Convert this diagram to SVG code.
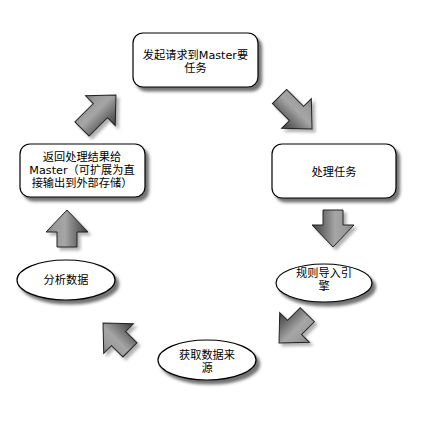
<svg xmlns="http://www.w3.org/2000/svg" width="426" height="423" viewBox="0 0 426 423">
  <defs>
    <filter id="nodeShadow" x="-20%" y="-20%" width="150%" height="160%">
      <feDropShadow dx="3.5" dy="4" stdDeviation="1.8" flood-color="#000" flood-opacity="0.55"/>
    </filter>
    <filter id="arrowShadow" x="-30%" y="-30%" width="170%" height="170%">
      <feDropShadow dx="3" dy="3" stdDeviation="1.4" flood-color="#000" flood-opacity="0.3"/>
    </filter>
    <linearGradient id="arrowFill" gradientUnits="userSpaceOnUse" x1="0" y1="21" x2="0" y2="-21">
      <stop offset="0" stop-color="#3e3e3e"/>
      <stop offset="0.3" stop-color="#747474"/>
      <stop offset="0.55" stop-color="#a6a6a6"/>
      <stop offset="0.8" stop-color="#9a9a9a"/>
      <stop offset="1" stop-color="#7c7c7c"/>
    </linearGradient>
  </defs>
  <style>
    .box { fill: #ffffff; stroke: #000000; stroke-width: 1.2; }
    .lbl { font-family: "DejaVu Sans", "Noto Sans CJK SC", sans-serif; font-size: 11.2px; fill: #000000; text-anchor: middle; }
    .arr { fill: url(#arrowFill); stroke: #222222; stroke-width: 1; stroke-linejoin: miter; }
  </style>

  <g id="connectors">
    <g filter="url(#arrowShadow)">
      <path class="arr" transform="translate(82,129) rotate(-45)" d="M0,-10 H26 V-21 L48,0 L26,21 V10 H0 Z"/>
    </g>
    <g filter="url(#arrowShadow)">
      <path class="arr" transform="translate(279.5,96.5) rotate(45)" d="M0,-10 H24 V-21 L46,0 L24,21 V10 H0 Z"/>
    </g>
    <g filter="url(#arrowShadow)">
      <path class="arr" transform="translate(333,210) rotate(90)" d="M0,-10 H15 V-21 L37,0 L15,21 V10 H0 Z"/>
    </g>
    <g filter="url(#arrowShadow)">
      <path class="arr" transform="translate(307.3,314.7) rotate(135)" d="M0,-10 H18 V-21 L40,0 L18,21 V10 H0 Z"/>
    </g>
    <g filter="url(#arrowShadow)">
      <path class="arr" transform="translate(129.9,349.9) rotate(-135)" d="M0,-10 H16 V-21 L38,0 L16,21 V10 H0 Z"/>
    </g>
    <g filter="url(#arrowShadow)">
      <path class="arr" transform="translate(67,247) rotate(-90)" d="M0,-10 H15 V-21 L37,0 L15,21 V10 H0 Z"/>
    </g>
  </g>

  <g id="node-request">
    <rect class="box" x="133" y="33" width="125" height="54" rx="10" filter="url(#nodeShadow)"/>
    <text class="lbl" x="195.5" y="59">发起请求到Master要</text>
    <text class="lbl" x="195.5" y="72">任务</text>
  </g>

  <g id="node-process">
    <rect class="box" x="272" y="144" width="124" height="54" rx="10" filter="url(#nodeShadow)"/>
    <text class="lbl" x="334" y="176">处理任务</text>
  </g>

  <g id="node-rules">
    <ellipse class="box" cx="324" cy="283" rx="48" ry="19" filter="url(#nodeShadow)"/>
    <text class="lbl" x="324" y="277">规则导入引</text>
    <text class="lbl" x="324" y="290">擎</text>
  </g>

  <g id="node-fetch">
    <ellipse class="box" cx="207" cy="360" rx="49" ry="20" filter="url(#nodeShadow)"/>
    <text class="lbl" x="207" y="359">获取数据来</text>
    <text class="lbl" x="207" y="372">源</text>
  </g>

  <g id="node-analyze">
    <ellipse class="box" cx="66" cy="280" rx="49" ry="20" filter="url(#nodeShadow)"/>
    <text class="lbl" x="66" y="284">分析数据</text>
  </g>

  <g id="node-return">
    <rect class="box" x="20" y="144" width="125" height="53" rx="10" filter="url(#nodeShadow)"/>
    <text class="lbl" x="82" y="161">返回处理结果给</text>
    <text class="lbl" x="82" y="174">Master（可扩展为直</text>
    <text class="lbl" x="82" y="187">接输出到外部存储）</text>
  </g>
</svg>
